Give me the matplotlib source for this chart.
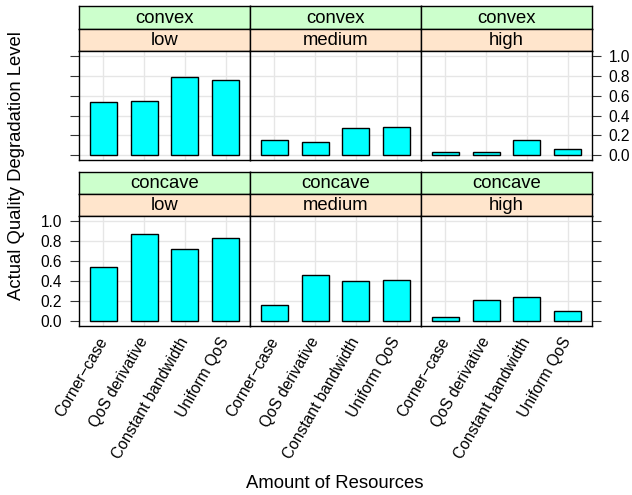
import matplotlib
matplotlib.use("Agg")
import matplotlib.pyplot as plt
import numpy as np

plt.rcParams['font.family'] = ['Liberation Sans', 'DejaVu Sans']

# data
categories = ["Corner\u2212case", "QoS derivative", "Constant bandwidth", "Uniform QoS"]
shapes = ["convex", "concave"]
levels = ["low", "medium", "high"]

convex_low = [0.54, 0.55, 0.79, 0.755]
convex_medium = [0.15, 0.135, 0.28, 0.285]
convex_high = [0.036, 0.033, 0.15, 0.06]
concave_low = [0.54, 0.875, 0.72, 0.835]
concave_medium = [0.165, 0.46, 0.40, 0.41]
concave_high = [0.047, 0.21, 0.245, 0.105]

values = {
    "convex": [convex_low, convex_medium, convex_high],
    "concave": [concave_low, concave_medium, concave_high],
}
yticks = [0.0, 0.2, 0.4, 0.6, 0.8, 1.0]

W, H = 632, 495
fig = plt.figure(figsize=(W / 100, H / 100), dpi=100)

def box(x0, y0, x1, y1):
    # pixel box -> figure fraction rect
    return [x0 / W, 1 - y1 / H, (x1 - x0) / W, (y1 - y0) / H]

col_x = [79, 250, 421, 592]
# (strip1 top, strip split, strip2 bottom, panel bottom)
row_y = [(6, 29, 51, 160), (172, 194, 216, 326)]

fs_big = 13.3   # strips and axis titles
fs_tick = 11.2
x = np.arange(1, len(categories) + 1)

for r, shape in enumerate(shapes):
    s_top, s_mid, s_bot, p_bot = row_y[r]
    for c, level in enumerate(levels):
        x0, x1 = col_x[c], col_x[c + 1]

        # strips
        for (ya, yb, txt, col) in [(s_top, s_mid, shape, "#CCFFCC"),
                                   (s_mid, s_bot, level, "#FFE5CC")]:
            sa = fig.add_axes(box(x0, ya, x1, yb))
            sa.set_facecolor(col)
            sa.set_xticks([])
            sa.set_yticks([])
            for sp in sa.spines.values():
                sp.set_linewidth(1.0)
            sa.text(0.5, 0.47, txt, ha="center", va="center", fontsize=fs_big,
                    transform=sa.transAxes)

        ax = fig.add_axes(box(x0, s_bot, x1, p_bot))
        ax.set_xlim(0.4, len(categories) + 0.6)
        ax.set_ylim(-0.047, 1.05)
        for xv in x:
            ax.axvline(xv, color="#E6E6E6", lw=1.0, zorder=0)
        for yv in yticks:
            ax.axhline(yv, color="#E6E6E6", lw=1.0, zorder=0)
        ax.bar(x, values[shape][c], width=2 / 3, color="#00FFFF",
               edgecolor="black", linewidth=1.0, zorder=2)
        for sp in ax.spines.values():
            sp.set_linewidth(1.0)

        ax.set_yticks(yticks)
        ax.tick_params(axis="y", length=6.5, width=0.8, color="#333333",
                       labelsize=fs_tick, pad=5.5,
                       left=(c == 0), right=(c == 2),
                       labelleft=(c == 0 and r == 1),
                       labelright=(c == 2 and r == 0))
        ax.set_yticklabels(["0.0", "0.2", "0.4", "0.6", "0.8", "1.0"])

        ax.set_xticks(x)
        if r == 1:
            ax.set_xticklabels(categories, rotation=60, ha="right", va="center",
                               rotation_mode="anchor", fontsize=fs_tick)
            ax.tick_params(axis="x", length=0, pad=9)
        else:
            ax.tick_params(axis="x", length=0, labelbottom=False)

fig.text(17 / W, 1 - 166 / H, "Actual Quality Degradation Level", rotation=90,
         ha="center", va="center", fontsize=fs_big)
fig.text(335 / W, 1 - 483 / H, "Amount of Resources", ha="center", va="center",
         fontsize=fs_big)

fig.savefig("out.png", dpi=100)
